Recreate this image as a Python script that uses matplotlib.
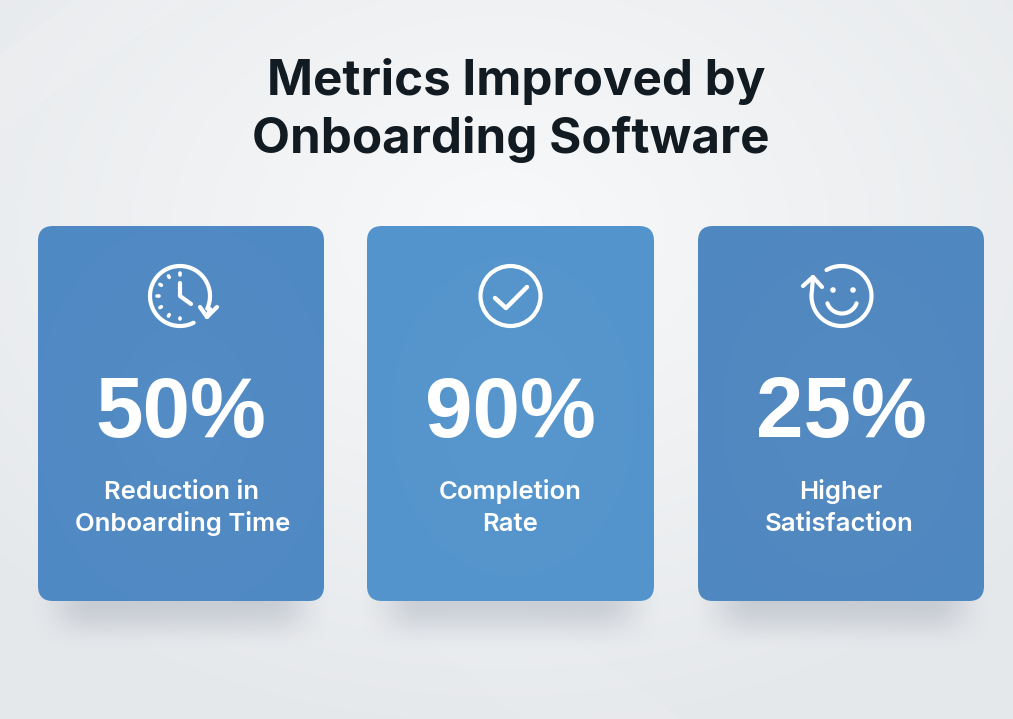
import numpy as np
import matplotlib
matplotlib.use("Agg")
import matplotlib.pyplot as plt
from matplotlib.patches import FancyBboxPatch, Polygon, Circle

title_lines = ["Metrics Improved by", "Onboarding Software"]
values = ["50%", "90%", "25%"]
labels = [["Reduction in", "Onboarding Time"], ["Completion", "Rate"], ["Higher", "Satisfaction"]]
card_left = [38, 367, 698]
card_right = [324, 654, 984]
card_colors = ["#4f89c3", "#5394cc", "#4f87c0"]
line2_shift = [2, 0, -2]

plt.rcParams['font.family'] = ['Inter', 'DejaVu Sans']

fig = plt.figure(figsize=(10.13, 7.19), dpi=100)
ax = fig.add_axes([0, 0, 1, 1])
ax.set_xlim(0, 1013)
ax.set_ylim(719, 0)
ax.axis('off')

# background, light in the middle and greyer to the edges
yy, xx = np.mgrid[0:719, 0:1013]
dist = np.sqrt(((xx - 500) / 700.0) ** 2 + ((yy - 230) / 520.0) ** 2)
dist = np.clip(dist, 0, 1)
top = np.array([248, 249, 250]) / 255.0
edge = np.array([229, 232, 235]) / 255.0
bg = top + (edge - top) * dist[..., None]
ax.imshow(bg, extent=[0, 1013, 719, 0], aspect='auto', zorder=0)

# faint facets
ax.add_patch(Polygon([(0, 55), (75, 0), (190, 0), (0, 130)], fc='white', alpha=0.10, ec='none', zorder=1))
ax.add_patch(Polygon([(380, 600), (520, 719), (680, 719), (520, 600)], fc='white', alpha=0.08, ec='none', zorder=1))
ax.add_patch(Polygon([(1013, 130), (900, 0), (1013, 0)], fc='white', alpha=0.06, ec='none', zorder=1))


def rounded(x0, y0, x1, y1, r, **kw):
    return FancyBboxPatch((x0 + r, y0 + r), x1 - x0 - 2 * r, y1 - y0 - 2 * r,
                          boxstyle="round,pad=%f,rounding_size=%f" % (r, r), **kw)


def arc(cx, cy, r, a0, a1, n=120):
    # angles in degrees, measured with y pointing up
    t = np.radians(np.linspace(a0, a1, n))
    return cx + r * np.cos(t), cy - r * np.sin(t)


def stroke(xs, ys, lw=3.0):
    ax.plot(xs, ys, color='white', lw=lw, solid_capstyle='round', solid_joinstyle='round', zorder=6)


def smooth(t):
    t = np.clip(t, 0, 1)
    return t * t * (3 - 2 * t)


for i in range(3):
    x0, x1 = card_left[i], card_right[i]
    # soft shadow below the card, faded in x and y
    sx = np.arange(x0 - 20, x1 + 21)
    sy = np.arange(590, 660)
    fade_x = smooth((sx - (x0 - 10)) / 65.0) * smooth(((x1 + 10) - sx) / 65.0)
    fade_y = smooth((652 - sy) / 52.0)
    shadow = np.zeros((len(sy), len(sx), 4))
    shadow[..., :3] = np.array([106, 116, 136]) / 255.0
    shadow[..., 3] = np.outer(fade_y, fade_x) * 0.25
    ax.imshow(shadow, extent=[sx[0], sx[-1], sy[-1], sy[0]], aspect='auto', zorder=2, interpolation='bilinear')

    card = rounded(x0, 226, x1, 601, 15, fc=card_colors[i], ec='none', zorder=3)
    ax.add_patch(card)
    # slightly lighter middle on the card
    cy, cx = np.mgrid[0:60, 0:60]
    glow = 1 - np.sqrt(((cx - 30) / 42.0) ** 2 + ((cy - 30) / 42.0) ** 2)
    glow = np.clip(glow, 0, 1)
    rgba = np.ones((60, 60, 4))
    rgba[..., 3] = glow * 0.03
    im = ax.imshow(rgba, extent=[x0, x1, 601, 226], aspect='auto', zorder=4, interpolation='bilinear')
    im.set_clip_path(card)

    mid = (x0 + x1) / 2.0
    ax.text(mid, 437, values[i], color='white', fontsize=61.5, fontweight='bold',
            family=['Liberation Sans', 'DejaVu Sans'], ha='center', va='baseline', zorder=6)
    ax.text(mid, 499, labels[i][0], color='white', fontsize=18.5, fontweight='semibold',
            ha='center', va='baseline', zorder=6)
    ax.text(mid + line2_shift[i], 531, labels[i][1], color='white', fontsize=18.5, fontweight='semibold',
            ha='center', va='baseline', zorder=6)

ax.set_xlim(0, 1013)
ax.set_ylim(719, 0)

# clock icon
stroke(*arc(180, 296, 30, -63, -385))
stroke([210, 207], [309, 317])
stroke([200, 207, 217], [307, 317, 307])
stroke([180, 180, 191], [283, 296, 304])
for a in [90, 120, 150, 180, 210, 240, 270]:
    dx, dy = arc(180, 296, 21.5, a, a, n=1)
    ex, ey = arc(180, 296, 23.2, a, a, n=1)
    stroke([dx[0], ex[0]], [dy[0], ey[0]], lw=2.6)

# check icon
ax.add_patch(Circle((510.5, 296), 30, fc='none', ec='white', lw=3.0, zorder=6))
stroke([495, 506, 527], [298, 308, 287], lw=3.2)

# smile icon
sx, sy = arc(841.5, 296, 30, 120, -190)
stroke(np.append(sx, 813), np.append(sy, 277))
stroke([803, 813, 822], [286, 277, 287])
ax.add_patch(Circle((833, 290), 2.8, fc='white', ec='none', zorder=6))
ax.add_patch(Circle((853, 290), 2.8, fc='white', ec='none', zorder=6))
stroke(*arc(842, 298, 15.5, -20, -160))

ax.text(516, 95, title_lines[0], color='#121a22', fontsize=35.5, fontweight='bold',
        ha='center', va='baseline', zorder=6)
ax.text(511, 153, title_lines[1], color='#121a22', fontsize=35.5, fontweight='bold',
        ha='center', va='baseline', zorder=6)

fig.savefig("out.png", dpi=100)
